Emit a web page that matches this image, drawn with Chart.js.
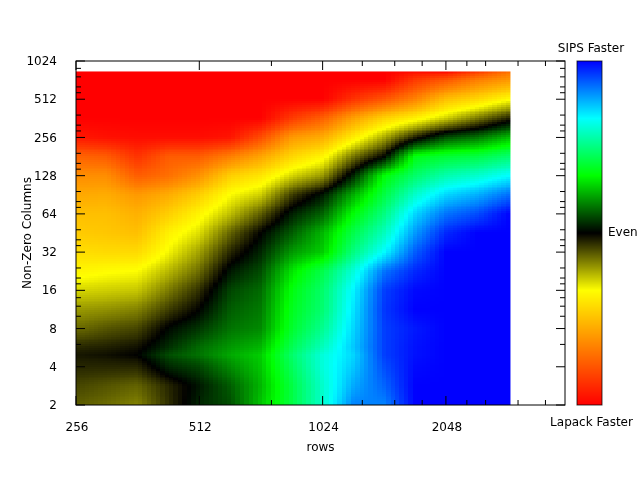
<!DOCTYPE html>
<html><head><meta charset="utf-8">
<style>html,body{margin:0;padding:0;background:#fff}canvas{display:block}</style>
<script src="https://cdn.jsdelivr.net/npm/chart.js@4/dist/chart.umd.min.js"></script>
</head><body><canvas id="c" width="640" height="480"></canvas>
<script>
const xNodes=[256,304,362,431,512,609,724,861,1024,1218,1448,1722,2048,2435,2944];
const yNodes=[2,2.83,4,5,5.66,8,11.3,16,22.6,32,45.3,64,90.5,128,181,256,362,512,724,847];
const col256=[-.12,-.09,-.05,-.03,-.05,-.14,-.20,-.28,-.36,-.42,-.47,-.5,-.56,-.63,-.74,-.94,-1,-1,-1,-1];
const col304=[-.14,-.11,-.05,-.02,-.04,-.11,-.19,-.27,-.34,-.43,-.48,-.5,-.55,-.63,-.76,-.96,-1,-1,-1,-1];
const col362=[-.17,-.13,-.05,0,-.02,-.09,-.17,-.26,-.33,-.43,-.5,-.54,-.6,-.76,-.87,-.97,-1,-1,-1,-1];
const col431=[-.06,-.05,.05,.1,.06,.01,-.08,-.16,-.24,-.32,-.37,-.46,-.55,-.71,-.76,-.97,-1,-1,-1,-1];
const col512=[.05,.03,.09,.15,.14,.07,0,-.06,-.14,-.21,-.29,-.36,-.46,-.62,-.76,-.97,-1,-1,-1,-1];
const col609=[.1,.12,.18,.22,.2,.15,.12,.09,.03,-.05,-.13,-.25,-.33,-.46,-.67,-.95,-1,-1,-1,-1];
const col724=[.26,.24,.26,.27,.24,.18,.16,.14,.1,.05,0,-.12,-.27,-.4,-.57,-.8,-1,-1,-1,-1];
const col861=[.42,.42,.45,.47,.44,.39,.37,.35,.3,.2,.12,.04,-.08,-.28,-.44,-.6,-.85,-1,-1,-1];
const col1024=[.6,.6,.62,.62,.58,.52,.48,.47,.43,.27,.24,.13,.03,-.2,-.36,-.55,-.75,-1,-1,-1];
const col1218=[.83,.78,.74,.72,.74,.72,.7,.68,.62,.5,.43,.34,.23,.05,-.15,-.38,-.58,-.87,-1,-1];
const col1448=[.83,.87,.9,.92,.92,.92,.93,.92,.85,.67,.58,.5,.42,.34,0,-.22,-.45,-.78,-1,-1];
const col1722=[1,1,.99,.98,.98,.97,1,.99,.95,.88,.8,.72,.6,.47,.36,-.04,-.37,-.66,-.85,-.97];
const col2048=[1,1,1,1,1,1,1,1,1,1,.95,.85,.72,.56,.4,.1,-.27,-.5,-.77,-.97];
const col2435=[1,1,1,1,1,1,1,1,1,1,1,.9,.77,.6,.42,.15,-.16,-.44,-.67,-.85];
const col2944=[1,1,1,1,1,1,1,1,1,1,1,1,.86,.67,.48,.25,-.04,-.34,-.6,-.7];
const columns=[col256,col304,col362,col431,col512,col609,col724,col861,col1024,col1218,col1448,col1722,col2048,col2435,col2944];
const xMajor=[256,512,1024,2048];
const xMinor=[768,1280,1536,1792,2304,2560,3072,3584];
const yMajor=[2,4,8,16,32,64,128,256,512,1024];
const yMinor=[6,10,12,14,18,20,24,36,40,48,72,80,96,144,160,192,288,320,384,576,640,768,896];
const paletteStops=[[-1,255,0,0],[-1/3,255,255,0],[0,0,0,0],[1/3,0,255,0],[2/3,0,255,255],[1,0,0,255]];
const FONT='"DejaVu Sans"';

function colour(v){
  v=Math.max(-1,Math.min(1,v));
  for(let i=1;i<paletteStops.length;i++){
    const a=paletteStops[i-1],b=paletteStops[i];
    if(v<=b[0]){const t=(v-a[0])/(b[0]-a[0]);
      return [a[1]+(b[1]-a[1])*t,a[2]+(b[2]-a[2])*t,a[3]+(b[3]-a[3])*t];}
  }
  return [0,0,255];
}
function seg(nodes,val){
  let i=0;while(i<nodes.length-2&&val>nodes[i+1])i++;
  const t=(Math.log(val)-Math.log(nodes[i]))/(Math.log(nodes[i+1])-Math.log(nodes[i]));
  return [i,Math.max(0,Math.min(1,t))];
}
const heat={id:'heat',beforeDatasetsDraw(ch){
  const c=ch.ctx,X=ch.scales.x,Y=ch.scales.y;
  const vals=ch.data.datasets.map(d=>d.data.map(p=>p.v));
  const L=Math.round(X.getPixelForValue(xNodes[0])),R=X.getPixelForValue(xNodes[xNodes.length-1]);
  const B=Math.round(Y.getPixelForValue(yNodes[0])),T=Y.getPixelForValue(yNodes[yNodes.length-1]);
  const W=Math.ceil(R)-L,H=B-Math.floor(T);
  const img=c.createImageData(W,H),d=img.data;
  const bw=4.43,bh=1.9;
  for(let j=0;j<H;j++){
    const py=Math.floor(T)+j;
    const qy=B-(Math.floor((B-py-0.5)/bh)+0.5)*bh;
    const [b,u]=seg(yNodes,Y.getValueForPixel(Math.max(T,qy)));
    for(let i=0;i<W;i++){
      const px=L+i;
      const qx=L+(Math.floor((px+0.5-L)/bw)+0.5)*bw;
      const [a,t]=seg(xNodes,X.getValueForPixel(Math.min(R,qx)));
      const v=(1-t)*((1-u)*vals[a][b]+u*vals[a][b+1])+t*((1-u)*vals[a+1][b]+u*vals[a+1][b+1]);
      const col=colour(v),k=4*(j*W+i);
      const cov=Math.min(1,R-px)*Math.min(1,py+1-T);
      d[k]=col[0];d[k+1]=col[1];d[k+2]=col[2];d[k+3]=255*Math.max(0,cov);
    }
  }
  const off=document.createElement('canvas');off.width=W;off.height=H;
  off.getContext('2d').putImageData(img,0,0);
  c.drawImage(off,L,Math.floor(T));
}};
const frame={id:'frame',afterDatasetsDraw(ch){
  const c=ch.ctx,X=ch.scales.x,Y=ch.scales.y,V=ch.scales.v,A=ch.chartArea;
  c.save();
  const cl=577,cr=602;
  for(let py=Math.round(A.top);py<Math.round(A.bottom);py++){
    const col=colour(V.getValueForPixel(py+0.5));
    c.fillStyle=`rgb(${col[0]|0},${col[1]|0},${col[2]|0})`;
    c.fillRect(cl,py,cr-cl,1);
  }
  c.strokeStyle='#000';c.lineWidth=1;c.globalAlpha=.75;
  c.strokeRect(cl,A.top,cr-cl,A.bottom-A.top);
  c.globalAlpha=1;
  c.strokeStyle='#000';c.lineWidth=1;
  c.strokeRect(A.left,A.top,A.right-A.left,A.bottom-A.top);
  const tick=(x1,y1,x2,y2)=>{c.beginPath();c.moveTo(x1,y1);c.lineTo(x2,y2);c.stroke();};
  const vx=(list,len)=>list.forEach(v=>{const p=X.getPixelForValue(v);tick(p,A.bottom,p,A.bottom-len);tick(p,A.top,p,A.top+len);});
  const vy=(list,len)=>list.forEach(v=>{const p=Y.getPixelForValue(v);tick(A.left,p,A.left+len,p);tick(A.right,p,A.right-len,p);});
  vx(xMajor,9);vx(xMinor,5);vy(yMajor,9);vy(yMinor,5);
  c.fillStyle='#000';c.font='12px '+FONT;c.textBaseline='middle';
  c.textAlign='center';
  c.fillText('SIPS Faster',591,48.5);
  c.fillText('Lapack Faster',591.5,423);
  c.textAlign='left';
  c.fillText('Even',608,V.getPixelForValue(0));
  c.restore();
}};
new Chart(document.getElementById('c'),{
  type:'scatter',
  data:{datasets:columns.map((col,i)=>({label:String(xNodes[i]),pointRadius:0,
    data:col.map((v,j)=>({x:xNodes[i],y:yNodes[j],v}))}))},
  options:{responsive:false,animation:false,
    layout:{padding:{top:61,right:75,left:0,bottom:0}},
    plugins:{legend:{display:false},tooltip:{enabled:false},title:{display:false}},
    scales:{
      x:{type:'logarithmic',position:'bottom',min:256,max:4000,
        grid:{display:false},border:{display:false},
        afterBuildTicks(s){s.ticks=xMajor.map(v=>({value:v}));},
        afterFit(s){s.height=75;},
        ticks:{autoSkip:false,maxRotation:0,minRotation:0,padding:8,labelOffset:1,color:'#000',font:{family:FONT,size:12},callback:v=>String(v)},
        title:{display:true,text:'rows',color:'#000',font:{family:FONT,size:12},padding:{top:0,bottom:25}}},
      y:{type:'logarithmic',position:'left',min:2,max:1024,
        grid:{display:false},border:{display:false},
        afterBuildTicks(s){s.ticks=yMajor.map(v=>({value:v}));},
        afterFit(s){s.width=76;},
        ticks:{autoSkip:false,padding:11,labelOffset:1,color:'#000',font:{family:FONT,size:12},callback:v=>String(v)},
        title:{display:true,text:'Non-Zero Columns',color:'#000',font:{family:FONT,size:12},padding:{top:21,bottom:21}}},
      v:{type:'linear',position:'right',min:-1,max:1,display:false}
    }
  },
  plugins:[heat,frame]
});
</script></body></html>
